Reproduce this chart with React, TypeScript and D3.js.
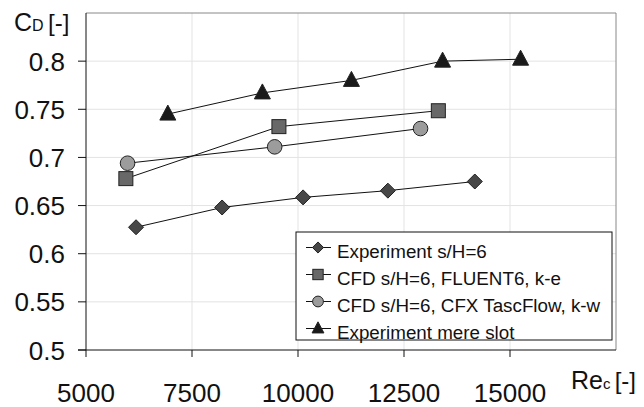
import React from "react";
import * as d3 from "d3";

const xTicks = [5000, 7500, 10000, 12500, 15000];
const yTicks = [0.5, 0.55, 0.6, 0.65, 0.7, 0.75, 0.8];

const expX = [6180, 8210, 10120, 12120, 14170];
const expY = [0.6275, 0.648, 0.6585, 0.6655, 0.675];
const fluentX = [5940, 9550, 13310];
const fluentY = [0.678, 0.732, 0.7485];
const cfxX = [5980, 9450, 12890];
const cfxY = [0.694, 0.711, 0.730];
const slotX = [6930, 9160, 11260, 13410, 15250];
const slotY = [0.745, 0.767, 0.780, 0.800, 0.802];

const seriesNames = [
  "Experiment s/H=6",
  "CFD s/H=6, FLUENT6, k-e",
  "CFD s/H=6, CFX TascFlow, k-w",
  "Experiment mere slot",
];

const W = 644, H = 407;
const L = 86, R = 616, T = 13, B = 350;
const FONT = "Liberation Sans, Arial, sans-serif";

const x = d3.scaleLinear().domain([5000, 17500]).range([L, R]);
const y = d3.scaleLinear().domain([0.5, 0.85]).range([B, T]);

type S = { xs: number[]; ys: number[]; shape: string; fill: string };
const series: S[] = [
  { xs: expX, ys: expY, shape: "diamond", fill: "#474747" },
  { xs: fluentX, ys: fluentY, shape: "square", fill: "#686868" },
  { xs: cfxX, ys: cfxY, shape: "circle", fill: "#9c9c9c" },
  { xs: slotX, ys: slotY, shape: "triangle", fill: "#1a1a1a" },
];

function Marker({ shape, fill, cx, cy, k = 1 }: { shape: string; fill: string; cx: number; cy: number; k?: number }) {
  const st = { fill, stroke: "#222", strokeWidth: 1 };
  if (shape === "circle") return <circle cx={cx} cy={cy} r={7.3 * k} {...st} />;
  if (shape === "square") return <rect x={cx - 7 * k} y={cy - 7 * k} width={14 * k} height={14 * k} {...st} />;
  if (shape === "diamond") {
    const a = 7.5 * k;
    return <path d={`M${cx},${cy - a}L${cx + a},${cy}L${cx},${cy + a}L${cx - a},${cy}Z`} {...st} />;
  }
  return <path d={`M${cx},${cy - 9 * k}L${cx + 8 * k},${cy + 6 * k}L${cx - 8 * k},${cy + 6 * k}Z`} {...st} />;
}

export default function App() {
  const line = d3.line<[number, number]>().x((d) => x(d[0])).y((d) => y(d[1]));
  const legX = 296, legY = 232, legW = 316, legH = 108;
  return (
    <svg width={W} height={H} style={{ position: "absolute", left: 0, top: 0, background: "#fff" }} fontFamily={FONT}>
      <rect width={W} height={H} fill="#fff" />
      {xTicks.slice(1).map((t) => (
        <line key={"gx" + t} x1={x(t)} x2={x(t)} y1={T} y2={B} stroke="#e3e3e3" strokeWidth={1} />
      ))}
      {yTicks.slice(1).map((t) => (
        <line key={"gy" + t} x1={L} x2={R} y1={y(t)} y2={y(t)} stroke="#e3e3e3" strokeWidth={1} />
      ))}
      <line x1={L} x2={R} y1={T} y2={T} stroke="#888" />
      <line x1={R} x2={R} y1={T} y2={B} stroke="#888" />
      <line x1={L} x2={L} y1={T} y2={B} stroke="#111" />
      <line x1={L - 8} x2={R} y1={B} y2={B} stroke="#111" />
      {yTicks.map((t) => (
        <g key={"yt" + t}>
          <line x1={L - 8} x2={L} y1={y(t)} y2={y(t)} stroke="#111" />
          <text x={65} y={y(t) + 9.5} textAnchor="end" fontSize={26} fill="#111">{t}</text>
        </g>
      ))}
      {xTicks.map((t) => (
        <g key={"xt" + t}>
          <line x1={x(t)} x2={x(t)} y1={B} y2={B + 7} stroke="#111" />
          <text x={x(t)} y={402} textAnchor="middle" fontSize={26} fill="#111">{t}</text>
        </g>
      ))}
      <text x={14} y={31} fill="#111">
        <tspan fontSize={25}>C</tspan><tspan fontSize={16}>D </tspan><tspan fontSize={24}>[-]</tspan>
      </text>
      <text x={571} y={389} fill="#111">
        <tspan fontSize={25}>Re</tspan><tspan fontSize={15}>c </tspan><tspan fontSize={24}>[-]</tspan>
      </text>
      {series.map((s, i) => (
        <g key={"s" + i}>
          <path d={line(s.xs.map((v, j) => [v, s.ys[j]] as [number, number])) || ""} fill="none" stroke="#111" strokeWidth={1} />
          {s.xs.map((v, j) => (
            <Marker key={j} shape={s.shape} fill={s.fill} cx={x(v)} cy={y(s.ys[j])} />
          ))}
        </g>
      ))}
      <rect x={legX} y={legY} width={legW} height={legH} fill="#fff" stroke="#111" />
      {series.map((s, i) => {
        const base = 258 + i * 27;
        const cy = base - 10.5;
        return (
          <g key={"l" + i}>
            <line x1={306} x2={331} y1={cy} y2={cy} stroke="#111" />
            <Marker shape={s.shape} fill={s.fill} cx={318} cy={cy} k={0.74} />
            <text x={337} y={base} fontSize={18.8} fill="#111">{seriesNames[i]}</text>
          </g>
        );
      })}
    </svg>
  );
}
